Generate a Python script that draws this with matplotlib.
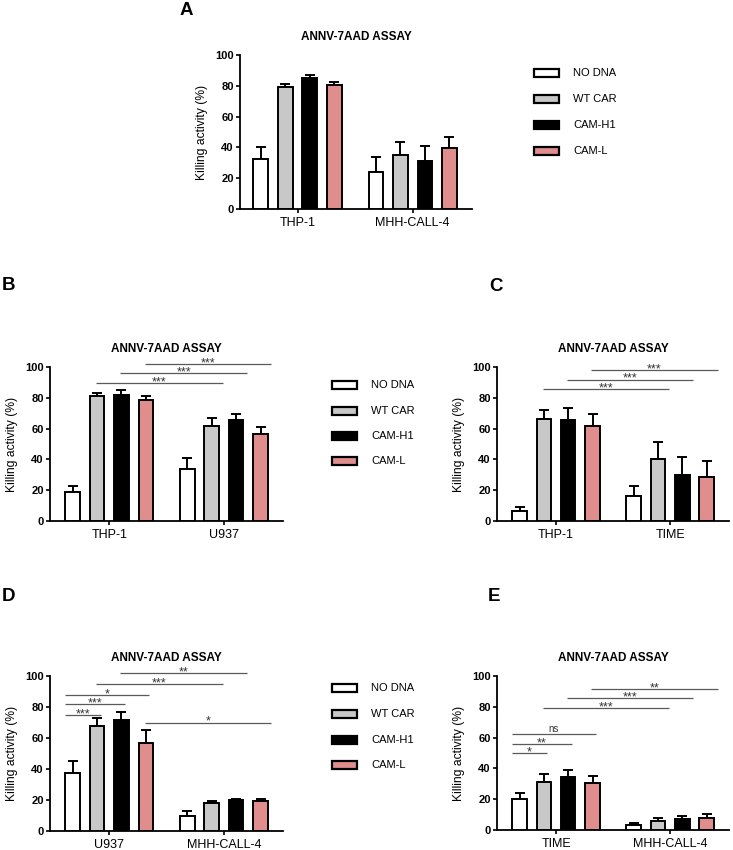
import matplotlib
matplotlib.use("Agg")
import matplotlib.pyplot as plt
from matplotlib.patches import Rectangle
import numpy as np

plt.rcParams['font.family'] = ['Liberation Sans', 'DejaVu Sans']

series = ['NO DNA', 'WT CAR', 'CAM-H1', 'CAM-L']
colors = ['#ffffff', '#c8c8c8', '#000000', '#e08d8d']
title = 'ANNV-7AAD ASSAY'
ylabel = 'Killing activity (%)'
yticks = [0, 20, 40, 60, 80, 100]

# Panel A
A_groups = ['THP-1', 'MHH-CALL-4']
A_means = [[32.5, 79.3, 85.3, 80.3], [24.3, 35.3, 31.4, 39.3]]
A_err = [[7.8, 2.1, 2.0, 2.0], [9.7, 8.3, 9.6, 7.7]]

# Panel B
B_groups = ['THP-1', 'U937']
B_means = [[18.8, 81.0, 82.0, 78.4], [33.5, 61.6, 65.9, 56.2]]
B_err = [[3.9, 2.0, 3.0, 3.0], [7.3, 5.6, 3.4, 4.9]]
B_sig_pairs = [(1, 5), (2, 6), (3, 7)]
B_sig_y = [89.4, 96.0, 102.0]
B_sig_lab = ['***', '***', '***']

# Panel C
C_groups = ['THP-1', 'TIME']
C_means = [[6.7, 66.1, 65.4, 61.6], [16.4, 40.0, 30.0, 28.3]]
C_err = [[2.2, 6.0, 7.8, 8.2], [6.1, 11.6, 11.5, 10.8]]
C_sig_pairs = [(1, 5), (2, 6), (3, 7)]
C_sig_y = [85.5, 91.8, 97.8]
C_sig_lab = ['***', '***', '***']

# Panel D
D_groups = ['U937', 'MHH-CALL-4']
D_means = [[37.6, 67.7, 71.6, 57.0], [9.9, 18.3, 20.0, 19.4]]
D_err = [[7.8, 5.4, 5.0, 8.4], [2.8, 1.3, 0.9, 1.5]]
D_sig_pairs = [(0, 1), (0, 2), (0, 3), (1, 5), (2, 6), (3, 7)]
D_sig_y = [75.0, 81.7, 87.7, 95.0, 101.7, 69.9]
D_sig_lab = ['***', '***', '*', '***', '**', '*']

# Panel E
E_groups = ['TIME', 'MHH-CALL-4']
E_means = [[19.9, 31.0, 34.4, 30.5], [3.2, 6.1, 6.9, 8.0]]
E_err = [[3.9, 5.4, 4.6, 4.6], [1.6, 1.9, 2.2, 2.6]]
E_sig_pairs = [(0, 1), (0, 2), (0, 3), (1, 5), (2, 6), (3, 7)]
E_sig_y = [49.8, 55.8, 62.1, 79.4, 85.5, 91.6]
E_sig_lab = ['*', '**', 'ns', '***', '***', '**']

W, H = 733, 850
fig = plt.figure(figsize=(W / 100, H / 100), dpi=100)


def fig_rect(x0, x1, ytop, ybot):
    return [x0 / W, 1 - ybot / H, (x1 - x0) / W, (ybot - ytop) / H]


SPACING = 0.213
BARW = 0.128


def bar_positions():
    pos = []
    for g in range(2):
        for i in range(4):
            pos.append(g + (i - 1.5) * SPACING)
    return pos


def draw_panel(rect, groups, means, errs, xleft, pairs=None, sig_y=None, sig_lab=None):
    ax = fig.add_axes(rect)
    pos = bar_positions()
    for i in range(4):
        xs = [pos[g * 4 + i] for g in range(2)]
        ys = [means[g][i] for g in range(2)]
        es = [errs[g][i] for g in range(2)]
        ax.errorbar(xs, ys, yerr=[[0, 0], es], fmt='none', ecolor='black',
                    elinewidth=1.4, capsize=3.6, capthick=1.4, zorder=2)
        ax.bar(xs, ys, width=BARW, color=colors[i], edgecolor='black',
               linewidth=1.4, zorder=3)
    ax.set_xlim(xleft, 1.515)
    ax.set_ylim(0, 100)
    ax.set_yticks(yticks)
    ax.set_xticks([0, 1])
    ax.set_xticklabels(groups, fontsize=9)
    for lab in ax.get_yticklabels():
        lab.set_fontweight('bold')
        lab.set_fontsize(8)
    ax.tick_params(axis='both', direction='out', length=3, width=1.2, pad=1.5)
    ax.tick_params(axis='x', pad=2.5)
    for s in ['top', 'right']:
        ax.spines[s].set_visible(False)
    for s in ['left', 'bottom']:
        ax.spines[s].set_linewidth(1.3)
    ax.set_ylabel(ylabel, fontsize=8.7, labelpad=5)
    ax.set_title(title, fontsize=8.5, fontweight='bold', pad=11)
    if pairs:
        for (a, b), y, lab in zip(pairs, sig_y, sig_lab):
            same = (a // 4) == (b // 4)
            if same:
                x0, x1 = pos[a] - 0.07, pos[b] + 0.03
            else:
                x0, x1 = pos[a] - 0.01, pos[b] + 0.095
            ax.plot([x0, x1], [y, y], color='#5a5a5a', lw=0.9, clip_on=False,
                    zorder=4, solid_capstyle='butt')
            if lab == 'ns':
                ax.annotate(lab, xy=((x0 + x1) / 2, y), xytext=(0, 2),
                            textcoords='offset points', ha='center', va='baseline',
                            fontsize=7, color='#333333', annotation_clip=False)
            else:
                ax.annotate(lab, xy=((x0 + x1) / 2, y), xytext=(0, -1.6),
                            textcoords='offset points', ha='center', va='baseline',
                            fontsize=9, color='#333333', annotation_clip=False)
    return ax


def draw_legend(x0, rows):
    for i, (name, y) in enumerate(zip(series, rows)):
        r = Rectangle((x0 / W, 1 - (y + 4) / H), 25 / W, 8 / H,
                      transform=fig.transFigure, facecolor=colors[i],
                      edgecolor='black', linewidth=1.6)
        fig.patches.append(r)
        fig.text((x0 + 39) / W, 1 - y / H, name, fontsize=8, va='center', ha='left')


draw_panel(fig_rect(240, 472, 55, 209), A_groups, A_means, A_err, -0.5)
draw_panel(fig_rect(50, 283, 367, 521), B_groups, B_means, B_err, -0.517,
           B_sig_pairs, B_sig_y, B_sig_lab)
draw_panel(fig_rect(497, 729, 367, 521), C_groups, C_means, C_err, -0.517,
           C_sig_pairs, C_sig_y, C_sig_lab)
draw_panel(fig_rect(50, 283, 676, 831), D_groups, D_means, D_err, -0.517,
           D_sig_pairs, D_sig_y, D_sig_lab)
draw_panel(fig_rect(497, 729, 676, 830), E_groups, E_means, E_err, -0.517,
           E_sig_pairs, E_sig_y, E_sig_lab)

draw_legend(534, [73, 99, 125, 151])
draw_legend(332, [385, 411, 436, 461])
draw_legend(332, [688, 714, 740, 765])

for lab, x, y in [('A', 180, 2), ('B', 2, 277), ('C', 489, 278), ('D', 2, 588), ('E', 488, 588)]:
    fig.text(x / W, 1 - y / H, lab, fontsize=13.5, fontweight='bold', va='top', ha='left')

fig.savefig('out.png', dpi=100)
